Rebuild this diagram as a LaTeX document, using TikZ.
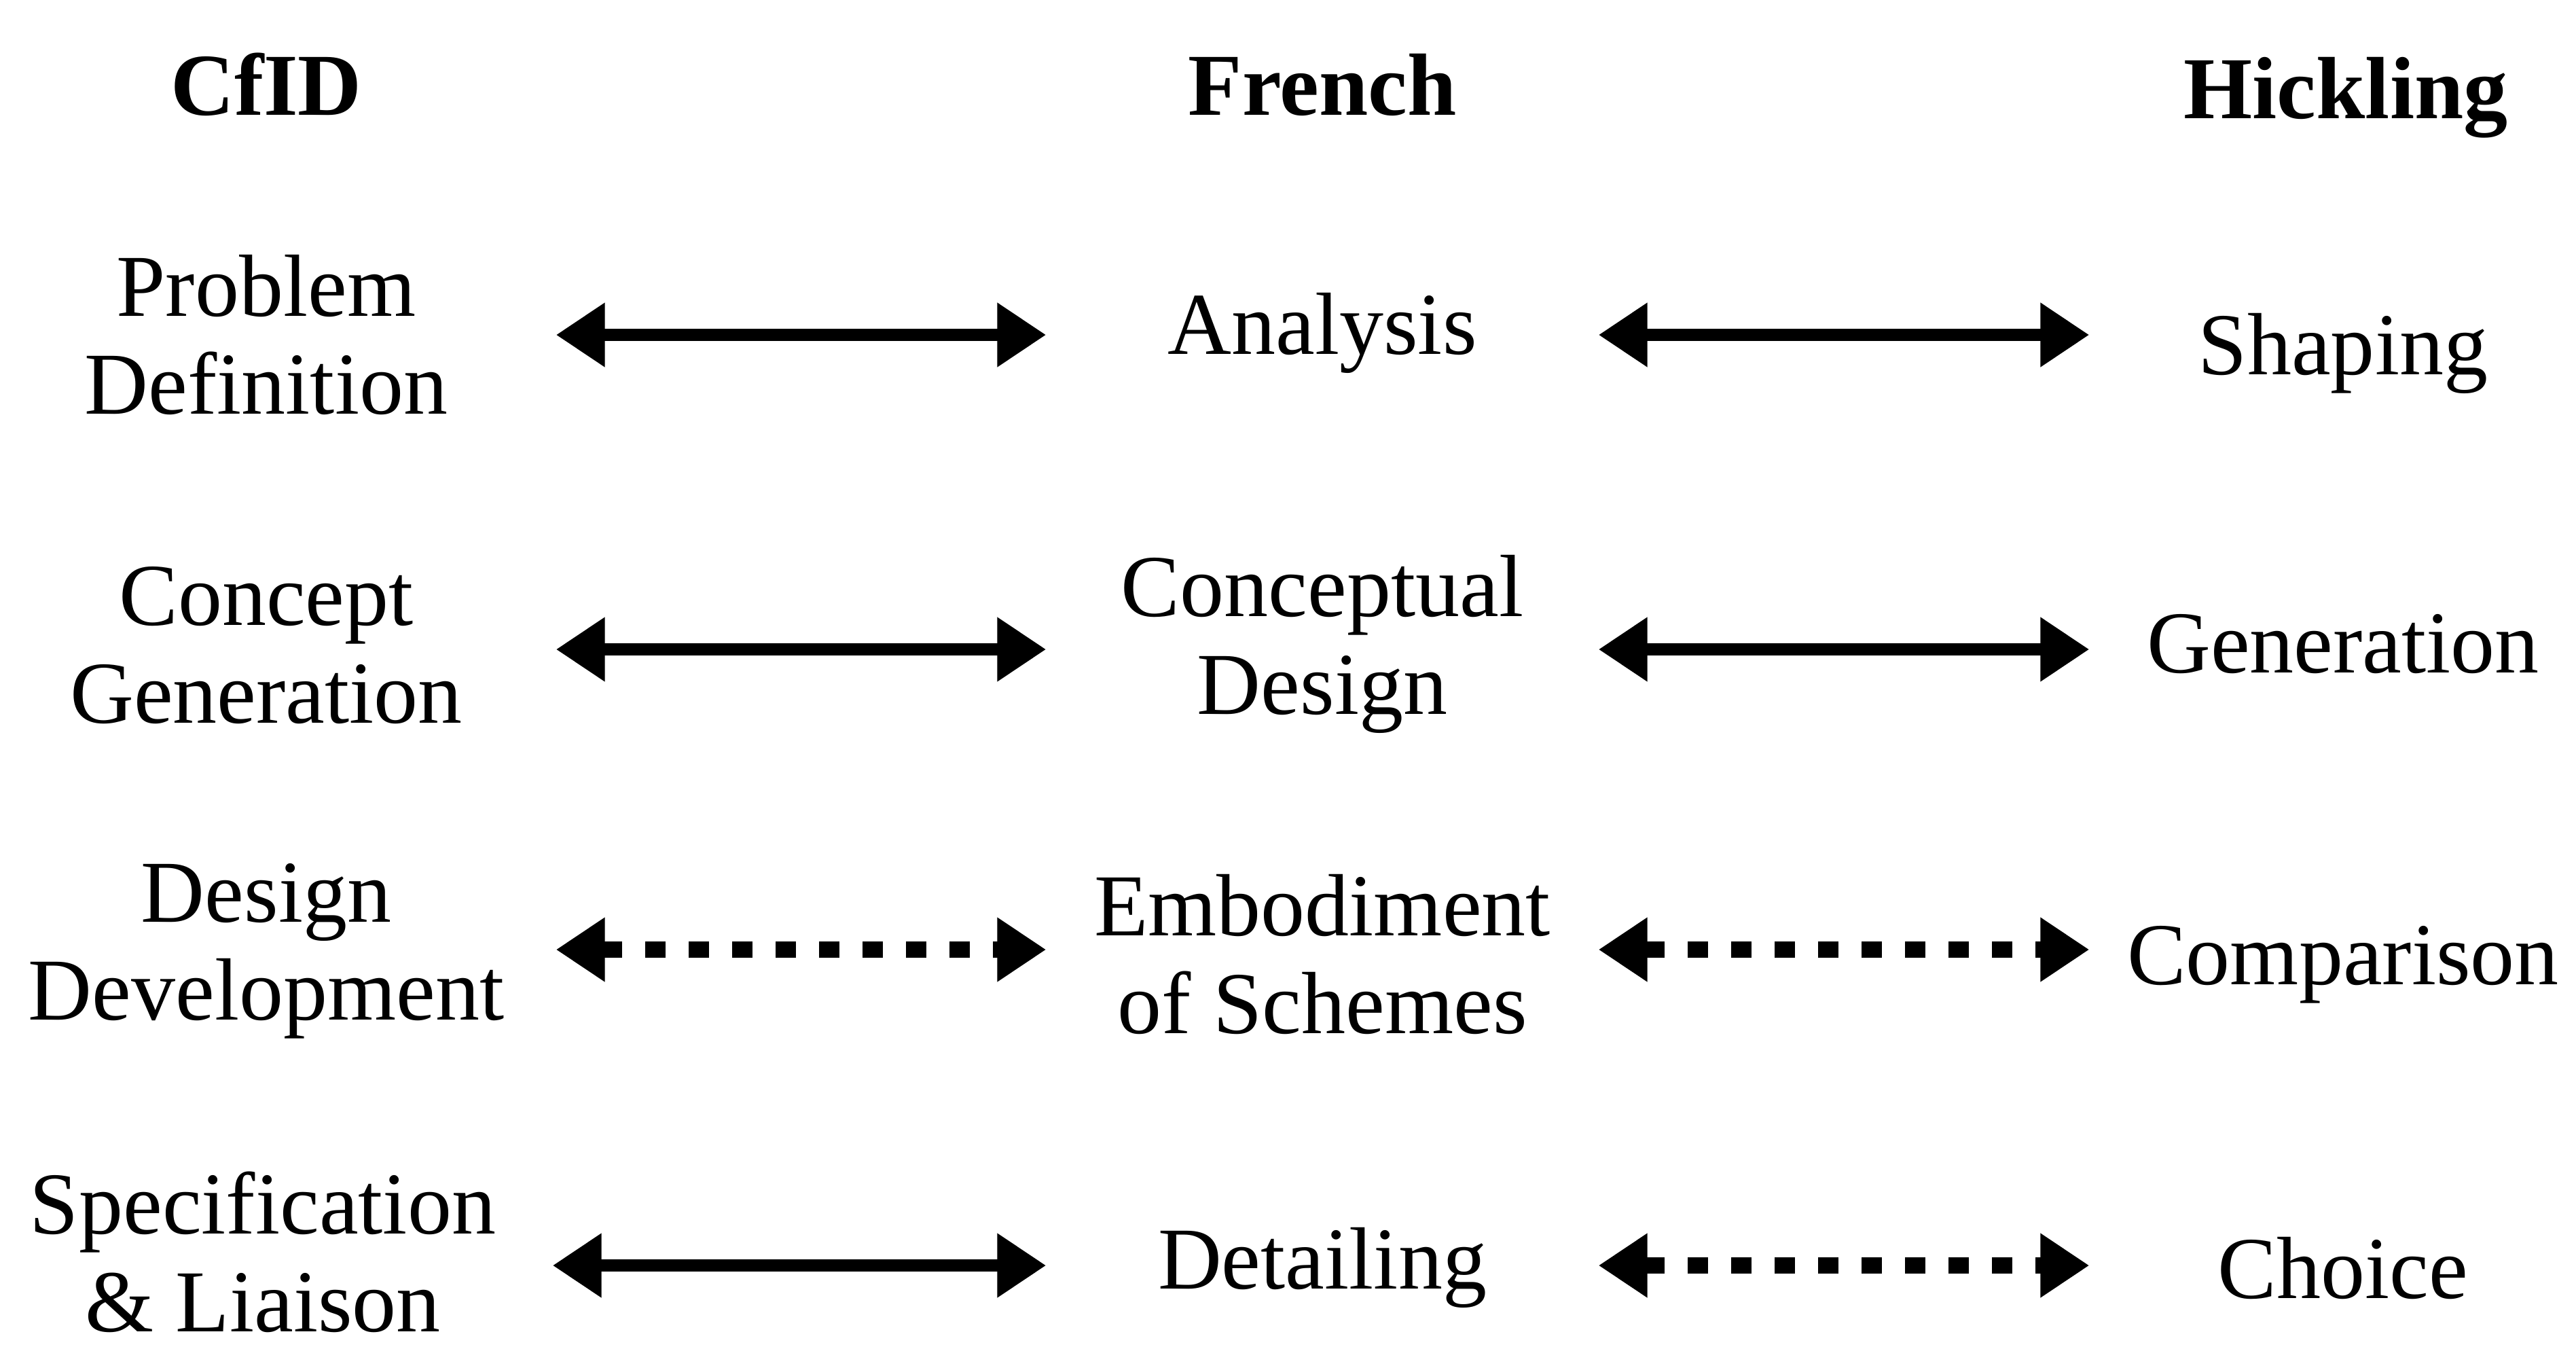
\documentclass[tikz,border=0pt]{standalone}
\usepackage{fontspec}
\setmainfont{Liberation Serif}
\usepackage{tikz}
\usetikzlibrary{positioning, calc, arrows.meta}

\tikzset{
    stage/.style={font=\fontsize{37}{41}\selectfont, align=center, inner sep=0pt},
    head/.style={stage, font=\fontsize{37}{41}\selectfont\bfseries},
    cfid/.style={stage, minimum width=8.52cm},
    french/.style={stage, minimum width=8.12cm},
    hick/.style={stage, minimum width=7.46cm},
    link/.style={{Triangle[length=0.72cm,width=0.9cm]}-{Triangle[length=0.72cm,width=0.9cm]}, line width=0.18cm},
    loose/.style={line width=0.24cm, dash pattern=on 0.3cm off 0.34cm}
}

\begin{document}
\begin{tikzpicture}
    \useasboundingbox (0,0) rectangle (37.93,-19.85);

    % Column heads
    \node[head, anchor=base] (hcfid) at (3.92,-1.69) {CfID};
    \node[head, anchor=base] (hfrench) at (19.47,-1.69) {French};
    \node[head, anchor=base] (hhick) at (34.54,-1.74) {Hickling};

    % Stages
    \node[cfid] (p1) at (3.92,-4.93) {Problem\\Definition};
    \node[cfid] (p2) at (3.92,-9.50) {Concept\\Generation};
    \node[cfid] (p3) at (3.92,-14.00) {Design\\Development};
    \node[cfid] (p4) at (3.87,-18.43) {Specification\\\& Liaison};

    \node[french] (a1) at (19.47,-4.90) {Analysis};
    \node[french] (a2) at (19.47,-9.48) {Conceptual\\Design};
    \node[french] (a3) at (19.47,-14.05) {Embodiment\\of Schemes};
    \node[french] (a4) at (19.47,-18.66) {Detailing};

    \node[hick] (s1) at (34.50,-5.20) {Shaping};
    \node[hick] (s2) at (34.50,-9.48) {Generation};
    \node[hick] (s3) at (34.50,-14.20) {Comparison};
    \node[hick] (s4) at (34.50,-18.67) {Choice};

    % Links
    \foreach \i/\ls/\rs/\dy in {1/solid/solid/0, 2/solid/solid/-0.06, 3/loose/loose/0.02, 4/solid/loose/-0.2} {
        \draw[link, \ls] ([yshift=\dy cm]p\i.east) -- ([yshift=\dy cm]p\i.east -| a\i.west);
        \draw[link, \rs] ([yshift=\dy cm]p\i.east -| a\i.east) -- ([yshift=\dy cm]p\i.east -| s\i.west);
    }
\end{tikzpicture}
\end{document}
